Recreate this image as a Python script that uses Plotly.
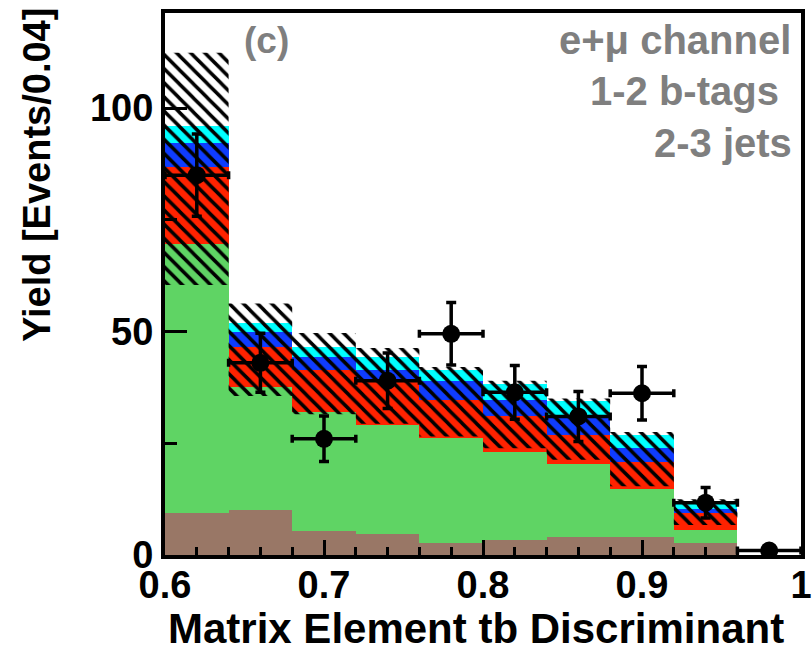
import plotly.graph_objects as go

# ---- data ----
bin_edges = [0.60, 0.64, 0.68, 0.72, 0.76, 0.80, 0.84, 0.88, 0.92, 0.96, 1.00]
bin_centers = [0.62, 0.66, 0.70, 0.74, 0.78, 0.82, 0.86, 0.90, 0.94, 0.98]

brown = [9.3, 10.1, 5.4, 4.8, 2.6, 3.4, 4.1, 4.1, 2.6, 0.0]
green = [60.2, 27.5, 26.6, 24.3, 23.6, 19.7, 16.3, 10.6, 3.0, 0.0]
red = [17.4, 9.0, 9.4, 9.7, 8.5, 8.0, 6.4, 6.2, 3.9, 0.0]
blue = [5.4, 3.4, 2.9, 2.7, 4.3, 3.6, 4.1, 3.0, 0.9, 0.0]
cyan = [3.7, 2.0, 2.3, 2.8, 2.5, 3.6, 3.6, 2.9, 1.4, 0.0]

band_hi = [112.4, 56.3, 49.7, 46.3, 42.1, 39.0, 35.0, 27.5, 12.5]
band_lo = [60.4, 35.6, 31.5, 29.4, 26.5, 23.9, 21.3, 15.4, 6.7]

data_y = [85.0, 43.0, 26.0, 39.0, 49.5, 36.4, 31.0, 36.2, 11.7, 1.0]
data_err = [9.2, 6.6, 5.1, 6.2, 7.0, 6.0, 5.6, 6.0, 3.4, 1.0]

x_tickvals = [0.6, 0.7, 0.8, 0.9, 1.0]
x_ticktext = ["0.6", "0.7", "0.8", "0.9", "1"]
y_tickvals = [0, 50, 100]
y_ticktext = ["0", "50", "100"]

colors = {
    "brown": "#997766",
    "green": "#5fd464",
    "red": "#ff2200",
    "blue": "#0f3cff",
    "cyan": "#00ffff",
}

FONT = "Liberation Sans"

fig = go.Figure()
for name, vals in [("brown", brown), ("green", green), ("red", red),
                   ("blue", blue), ("cyan", cyan)]:
    fig.add_trace(go.Bar(
        x=bin_centers, y=vals, width=0.04,
        marker=dict(color=colors[name], line=dict(width=0)),
        name=name, hoverinfo="skip"))

# hatched uncertainty band (one rectangle per bin)
bx, by = [], []
for i in range(len(band_hi)):
    x0, x1 = bin_edges[i], bin_edges[i + 1]
    bx += [x0, x1, x1, x0, x0, None]
    by += [band_lo[i], band_lo[i], band_hi[i], band_hi[i], band_lo[i], None]
fig.add_trace(go.Scatter(
    x=bx, y=by, mode="lines", fill="toself",
    fillcolor="rgba(0,0,0,0)",
    fillpattern=dict(shape="\\", fgcolor="black", bgcolor="rgba(0,0,0,0)",
                     size=10, solidity=0.35),
    line=dict(width=0, color="rgba(0,0,0,0)"), hoverinfo="skip"))

# data points
fig.add_trace(go.Scatter(
    x=bin_centers, y=data_y, mode="markers",
    marker=dict(color="black", size=18, symbol="circle"),
    error_y=dict(type="data", array=data_err, color="black",
                 thickness=3.5, width=5),
    error_x=dict(type="constant", value=0.02, color="black",
                 thickness=3.5, width=4),
    hoverinfo="skip"))

fig.update_layout(
    template="none",
    width=812, height=651,
    margin=dict(l=165, r=11, t=13, b=96),
    barmode="stack", bargap=0,
    showlegend=False,
    plot_bgcolor="white", paper_bgcolor="white",
    font=dict(family=FONT, color="black"),
)

fig.update_xaxes(
    automargin=False,
    range=[0.6, 1.0], tickvals=x_tickvals, ticktext=x_ticktext,
    ticks="inside", ticklen=15, tickwidth=3, tickcolor="black",
    minor=dict(dtick=0.02, tick0=0.6, ticks="inside", ticklen=8,
               tickwidth=3, tickcolor="black", showgrid=False),
    showline=True, linewidth=4, linecolor="black", mirror=True,
    showgrid=False, zeroline=False,
    tickfont=dict(family=FONT, size=38, color="black", weight="bold"),
    ticklabelstandoff=-7,
)
fig.update_yaxes(
    automargin=False,
    range=[0, 121.3], tickvals=y_tickvals, ticktext=y_ticktext,
    ticks="inside", ticklen=22, tickwidth=3, tickcolor="black",
    minor=dict(dtick=25, tick0=0, ticks="inside", ticklen=12,
               tickwidth=3, tickcolor="black", showgrid=False),
    showline=True, linewidth=4, linecolor="black", mirror=True,
    showgrid=False, zeroline=False,
    tickfont=dict(family=FONT, size=38, color="black", weight="bold"),
)

def px_to_paper_x(px):
    return (px - 165) / 636.0

def px_to_paper_y(py):
    return (555 - py) / 542.0

annos = [
    dict(text="Matrix Element tb Discriminant", x=px_to_paper_x(476),
         y=px_to_paper_y(628), xanchor="center", yanchor="middle",
         font=dict(family=FONT, size=42, color="black", weight="bold")),
    dict(text="Yield [Events/0.04]", x=px_to_paper_x(37),
         y=px_to_paper_y(175), xanchor="center", yanchor="middle",
         textangle=-90,
         font=dict(family=FONT, size=38, color="black", weight="bold")),
    dict(text="(c)", x=px_to_paper_x(266), y=px_to_paper_y(40),
         xanchor="center", yanchor="middle",
         font=dict(family=FONT, size=37, color="#7f7f7f", weight="bold")),
    dict(text="e+μ channel", x=px_to_paper_x(675), y=px_to_paper_y(40),
         xanchor="center", yanchor="middle",
         font=dict(family=FONT, size=40, color="#7f7f7f", weight="bold")),
    dict(text="1-2 b-tags", x=px_to_paper_x(684), y=px_to_paper_y(91),
         xanchor="center", yanchor="middle",
         font=dict(family=FONT, size=40, color="#7f7f7f", weight="bold")),
    dict(text="2-3 jets", x=px_to_paper_x(723), y=px_to_paper_y(143),
         xanchor="center", yanchor="middle",
         font=dict(family=FONT, size=40, color="#7f7f7f", weight="bold")),
]
for a in annos:
    a.update(xref="paper", yref="paper", showarrow=False)
fig.update_layout(annotations=annos)

fig.write_html("out.html",
               config={"displayModeBar": False},
               post_script="document.body.style.margin='0';"
                           "document.body.style.padding='0';")
